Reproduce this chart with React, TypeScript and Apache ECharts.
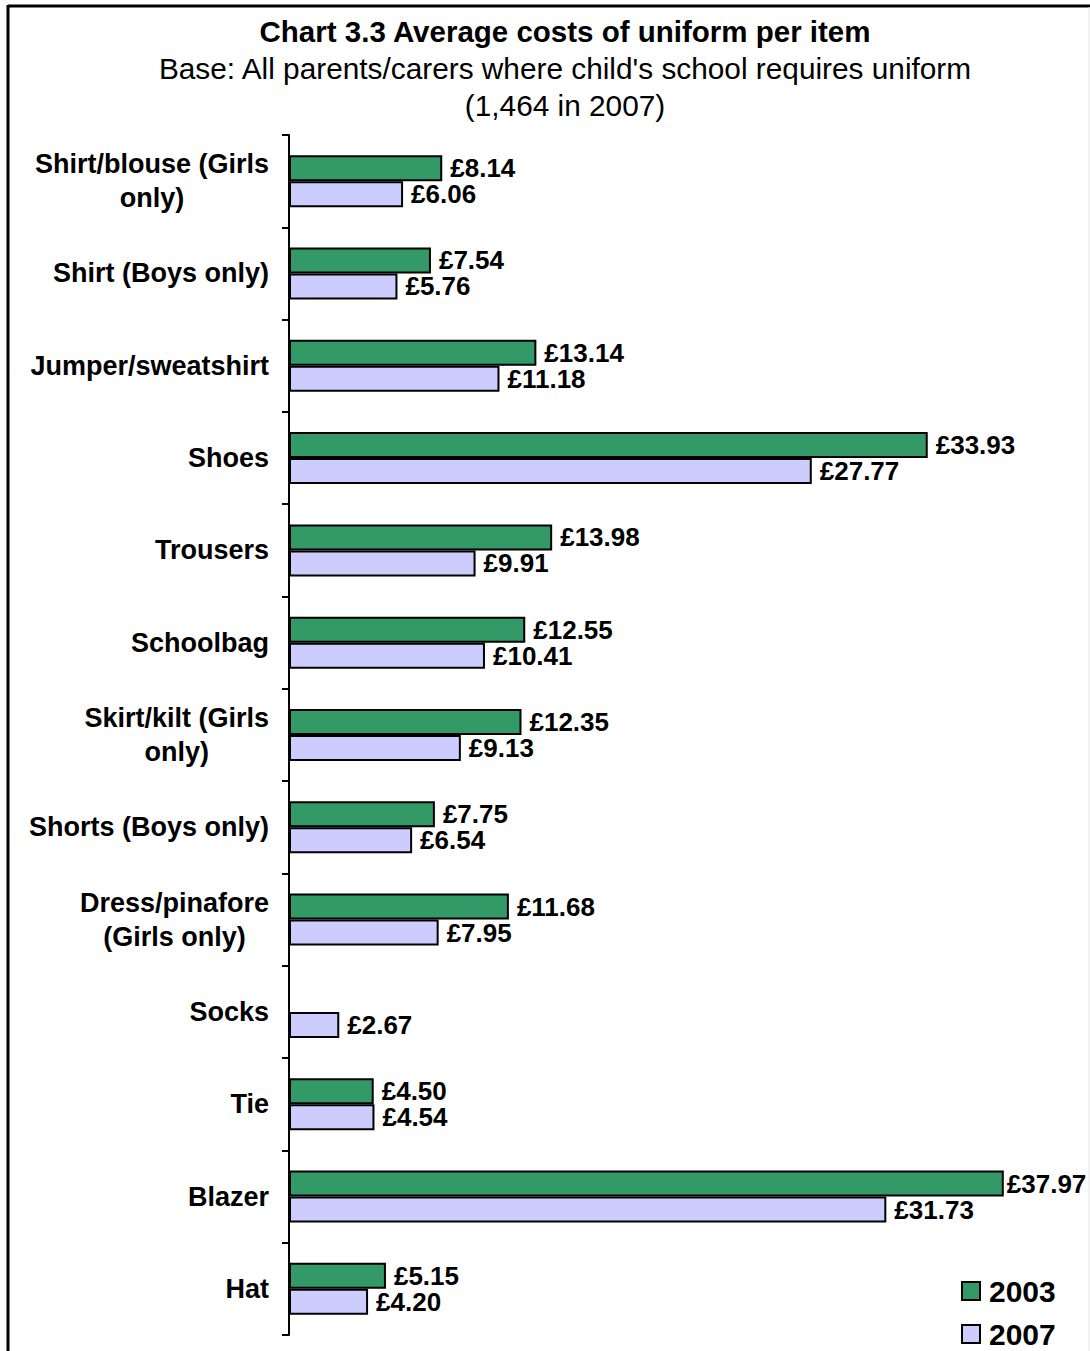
import React, { useEffect, useRef } from "react";
import * as echarts from "echarts";

const categories = [
  "Shirt/blouse (Girls\nonly)",
  "Shirt (Boys only)",
  "Jumper/sweatshirt",
  "Shoes",
  "Trousers",
  "Schoolbag",
  "Skirt/kilt (Girls\nonly)",
  "Shorts (Boys only)",
  "Dress/pinafore\n(Girls only)",
  "Socks",
  "Tie",
  "Blazer",
  "Hat",
];
const values2003: (number | null)[] = [8.14, 7.54, 13.14, 33.93, 13.98, 12.55, 12.35, 7.75, 11.68, null, 4.5, 37.97, 5.15];
const values2007: number[] = [6.06, 5.76, 11.18, 27.77, 9.91, 10.41, 9.13, 6.54, 7.95, 2.67, 4.54, 31.73, 4.2];
const seriesNames = ["2003", "2007"];

const FONT = '"Liberation Sans", Arial, sans-serif';

export default function App() {
  const ref = useRef<HTMLDivElement>(null);
  useEffect(() => {
    document.body.style.margin = "0";
    const chart = echarts.init(ref.current!, null, { renderer: "svg" });
    const labelStyle = {
      show: true,
      position: "right" as const,
      distance: 8,
      fontFamily: FONT,
      fontWeight: "bold" as const,
      fontSize: 26,
      color: "#000",
      formatter: (p: any) => "£" + Number(p.value).toFixed(2),
    };
    const maxVal = Math.max(...(values2003.filter((v) => v != null) as number[]));
    const data2003 = values2003.map((v) =>
      v === maxVal ? { value: v, label: { distance: 3 } } : v
    );
    const legendCommon = {
      orient: "vertical" as const,
      left: 961,
      itemWidth: 18,
      itemHeight: 18,
      icon: "rect",
      padding: 0,
      textStyle: { fontFamily: FONT, fontWeight: "bold" as const, fontSize: 30, color: "#000", padding: [0, 0, 0, 4] },
    };
    chart.setOption({
      animation: false,
      backgroundColor: "#fff",
      title: {
        text: "Chart 3.3 Average costs of uniform per item",
        subtext: "Base: All parents/carers where child's school requires uniform\n(1,464 in 2007)",
        left: 560,
        top: 11,
        textAlign: "center",
        itemGap: 4,
        textStyle: { fontFamily: FONT, fontWeight: "bold", fontSize: 29.5, color: "#000" },
        subtextStyle: { fontFamily: FONT, fontSize: 29.8, color: "#000", lineHeight: 37 },
      },
      graphic: [
        {
          type: "line",
          shape: { x1: 8, y1: 6, x2: 1090, y2: 6 },
          style: { stroke: "#000", lineWidth: 3 },
          silent: true,
        },
        {
          type: "line",
          shape: { x1: 8, y1: 5, x2: 8, y2: 1351 },
          style: { stroke: "#000", lineWidth: 3 },
          silent: true,
        },
        {
          type: "line",
          shape: { x1: 1089, y1: 7, x2: 1089, y2: 1351 },
          style: { stroke: "#e4e4e4", lineWidth: 1 },
          silent: true,
        },
      ],
      legend: [
        { ...legendCommon, top: 1276, data: [seriesNames[0]] },
        { ...legendCommon, top: 1319, data: [seriesNames[1]] },
      ],
      grid: { left: 289, top: 135, right: 48, bottom: 16, containLabel: false },
      xAxis: {
        type: "value",
        min: 0,
        max: 40,
        show: false,
      },
      yAxis: {
        type: "category",
        inverse: true,
        data: categories,
        axisLine: { show: true, lineStyle: { color: "#000", width: 2 } },
        axisTick: { show: true, length: 7, lineStyle: { color: "#000", width: 2 } },
        axisLabel: {
          margin: 20,
          fontFamily: FONT,
          fontWeight: "bold",
          fontSize: 27,
          color: "#000",
          lineHeight: 34,
          formatter: (v: string) =>
            v.includes("\n") ? v.split("\n").map((s) => "{c|" + s + "}").join("\n") : v,
          rich: {
            c: { align: "center", fontFamily: FONT, fontWeight: "bold", fontSize: 27, color: "#000", lineHeight: 34 },
          },
        },
      },
      series: [
        {
          name: seriesNames[0],
          type: "bar",
          data: data2003,
          barWidth: 26,
          barGap: "0%",
          itemStyle: { color: "#339966", borderColor: "#000", borderWidth: 2 },
          label: labelStyle,
        },
        {
          name: seriesNames[1],
          type: "bar",
          data: values2007,
          barWidth: 26,
          barGap: "0%",
          itemStyle: { color: "#CCCCFF", borderColor: "#000", borderWidth: 2 },
          label: labelStyle,
        },
      ],
    });
    return () => chart.dispose();
  }, []);
  return <div ref={ref} style={{ width: 1090, height: 1351 }} />;
}
